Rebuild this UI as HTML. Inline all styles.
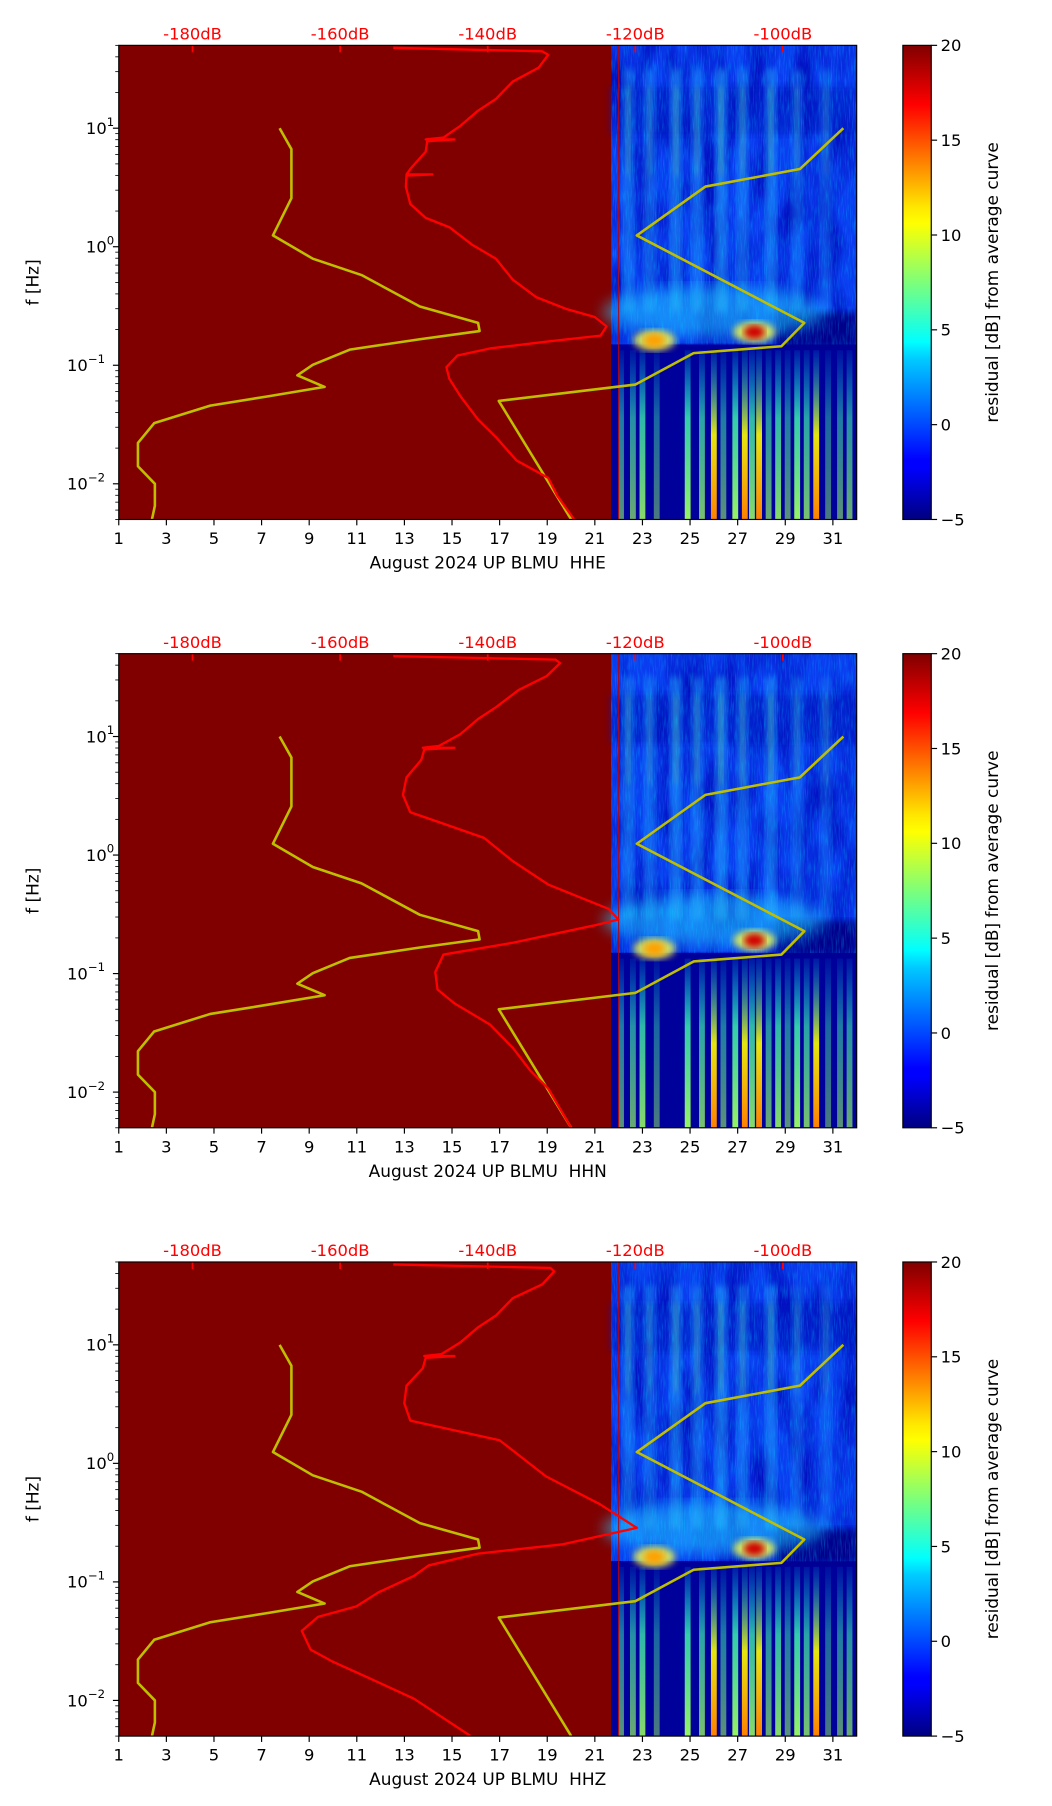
<!DOCTYPE html>
<html><head><meta charset="utf-8"><style>
html,body{margin:0;padding:0;background:#fff;}
svg{display:block;font-family:"DejaVu Sans","Liberation Sans",sans-serif;}
</style></head><body>
<svg id="fig" xmlns="http://www.w3.org/2000/svg" width="1052" height="1806" viewBox="0 0 900 1545" preserveAspectRatio="none">
<defs>
<linearGradient id="jet" x1="0" y1="1" x2="0" y2="0">
<stop offset="0" stop-color="#000080"/><stop offset="0.11" stop-color="#0000ff"/><stop offset="0.125" stop-color="#0000ff"/>
<stop offset="0.34" stop-color="#00ccff"/><stop offset="0.375" stop-color="#00ffff"/><stop offset="0.5" stop-color="#7dff7a"/>
<stop offset="0.625" stop-color="#ffff00"/><stop offset="0.66" stop-color="#ffe600"/><stop offset="0.875" stop-color="#ff0000"/><stop offset="1" stop-color="#800000"/>
</linearGradient>
<linearGradient id="stripeG" x1="0" y1="0" x2="0" y2="1">
<stop offset="0" stop-color="#00ffff" stop-opacity="0.1"/><stop offset="0.4" stop-color="#40ffb0" stop-opacity="0.8"/><stop offset="1" stop-color="#a0ff60" stop-opacity="0.95"/>
</linearGradient>
<linearGradient id="stripeY" x1="0" y1="0" x2="0" y2="1">
<stop offset="0" stop-color="#00ffff" stop-opacity="0.1"/><stop offset="0.5" stop-color="#ffff00" stop-opacity="0.9"/><stop offset="1" stop-color="#ff8000" stop-opacity="1"/>
</linearGradient>
<filter id="blur3"><feGaussianBlur stdDeviation="3"/></filter>
<filter id="blur6"><feGaussianBlur stdDeviation="6"/></filter>
<filter id="noise" x="0" y="0" width="1" height="1">
<feTurbulence type="fractalNoise" baseFrequency="0.9 0.08" numOctaves="2" seed="3"/>
<feColorMatrix type="matrix" values="0 0 0 0 0  0 0 0 0.9 0  0 0 0 0 1  0 0 0 1.1 -0.45"/>
</filter>
<filter id="noiseDark" x="0" y="0" width="1" height="1">
<feTurbulence type="fractalNoise" baseFrequency="0.05 0.02" numOctaves="2" seed="7"/>
<feColorMatrix type="matrix" values="0 0 0 0 0  0 0 0 0 0  0 0 0 0 0.45  0 0 0 1.6 -0.55"/>
</filter>
</defs>
</svg>
<script>
// ---------- data ----------
const dayTicks = [1,3,5,7,9,11,13,15,17,19,21,23,25,27,29,31];
const dbTicks = [-180,-160,-140,-120,-100];
const cbTicks = [20,15,10,5,0,-5];
const freqDecades = [-2,-1,0,1];
const panelLabels = ["August 2024 UP BLMU\u00a0\u00a0HHE","August 2024 UP BLMU\u00a0\u00a0HHN","August 2024 UP BLMU\u00a0\u00a0HHZ"];
const spectroStartDay = 21.68;
// low noise model (dB) vs log10 f
const nlnmLogF = [1.0,0.823,0.41,0.095,-0.101,-0.239,-0.504,-0.642,-0.711,-0.78,-0.868,-0.996,-1.085,-1.183,-1.262,-1.34,-1.488,-1.655,-1.852,-2.0,-2.186,-2.30];
const nlnmDB = [-168.2,-166.6,-166.6,-169.1,-163.7,-157.1,-149.2,-141.3,-141.1,-149.2,-158.7,-163.7,-165.8,-162.1,-169.7,-177.6,-185.2,-187.4,-187.4,-185.1,-185.1,-185.5];
// high noise model
const nhnmLogF = [1.0,0.656,0.508,0.095,-0.642,-0.839,-0.898,-1.163,-1.301,-2.30];
const nhnmDB = [-91.8,-97.7,-110.5,-119.8,-97.1,-100.2,-112.1,-120.0,-138.5,-128.7];
// average PSD curves
const heLogF = [1.678,1.649,1.619,1.511,1.393,1.246,1.148,1.02,0.921,0.905,0.905,0.89,0.803,0.656,0.61,0.61,0.6,0.508,0.361,0.243,0.164,0.017,-0.101,-0.278,-0.426,-0.524,-0.593,-0.672,-0.75,-0.799,-0.858,-0.917,-1.016,-1.114,-1.262,-1.458,-1.606,-1.803,-1.95,-2.098,-2.30];
const heDB = [-152.8,-132.6,-131.8,-133.1,-136.6,-138.9,-141.3,-143.7,-146.0,-148.4,-144.5,-148.2,-148.4,-150.5,-151.0,-147.5,-151.0,-151.1,-150.5,-148.4,-145.2,-142.1,-138.9,-136.6,-133.4,-129.4,-125.5,-123.9,-124.7,-131.8,-139.7,-144.1,-145.6,-145.2,-143.7,-141.3,-138.9,-136.1,-131.8,-130.6,-128.3];
const hnLogF = [1.678,1.649,1.619,1.511,1.393,1.246,1.148,1.02,0.921,0.905,0.905,0.89,0.803,0.656,0.508,0.361,0.282,0.145,-0.052,-0.249,-0.367,-0.455,-0.544,-0.593,-0.74,-0.839,-0.986,-1.134,-1.252,-1.429,-1.626,-1.822,-1.97,-2.30];
const hnDB = [-152.8,-130.8,-130.2,-132.0,-135.8,-138.9,-141.3,-143.7,-146.6,-148.8,-144.5,-148.6,-149.0,-151.0,-151.5,-150.5,-146.8,-140.5,-136.6,-131.8,-127.1,-123.6,-122.3,-125.5,-136.6,-146.0,-147.1,-146.8,-144.5,-139.7,-136.6,-134.2,-131.8,-128.7];
const hzLogF = [1.678,1.649,1.619,1.511,1.393,1.246,1.148,1.02,0.921,0.905,0.905,0.89,0.803,0.656,0.508,0.361,0.195,-0.11,-0.344,-0.545,-0.683,-0.762,-0.861,-0.95,-1.088,-1.206,-1.295,-1.413,-1.571,-1.67,-1.808,-1.985,-2.301];
const hzDB = [-152.8,-131.5,-131.0,-132.6,-136.6,-138.9,-141.3,-143.7,-146.3,-148.6,-144.5,-148.4,-148.8,-151.0,-151.3,-150.5,-138.4,-132.1,-124.8,-119.8,-129.8,-141.3,-148.0,-150.0,-154.8,-157.8,-163.0,-165.2,-164.0,-161.1,-156.2,-150.0,-142.3];
// spectrogram features (day, residual-ish)
const streakDays = [22.4,23.3,24.4,25.3,26.3,27.2,28.4,29.5,30.7];
const streakDB = [8,7,9,8,10,8,9,6,5];
const lowStripeDays = [22.1,22.6,23.0,23.6,24.9,25.5,26.0,26.4,26.9,27.3,27.6,27.9,28.3,28.7,29.1,29.5,29.9,30.3,30.8,31.3,31.7];
const lowStripeDB = [6,7,9,5,10,8,12,6,10,17,9,13,7,9,6,10,8,13,5,6,7];
const hotDays = [27.7,23.5];
const hotLogF = [-0.72,-0.79];
const hotDB = [19,13];

// ---------- layout ----------
const NS="http://www.w3.org/2000/svg";
const svg=document.getElementById('fig');
const PX0=101.6, PX1=732.9, PH=405.6, PTOP=38.8, PSTEP=520.4;
const CBX0=772.4, CBX1=796.7;
function xDay(d){return PX0+(d-1)/31*(PX1-PX0);}
function xDB(v){return PX0+(v+190)/100*(PX1-PX0);}
function yF(lf,top){return top+(Math.log10(50)-lf)/4*PH;}
function yCB(v,top){return top+(20-v)/25*PH;}
function mk(tag,attrs,parent){const e=document.createElementNS(NS,tag);for(const k in attrs)e.setAttribute(k,attrs[k]);(parent||svg).appendChild(e);return e;}
function txt(s,attrs,parent){const e=mk('text',attrs,parent);e.textContent=s;return e;}
function pathFrom(lfs,dbs,top){return lfs.map((lf,i)=>(i?'L':'M')+xDB(dbs[i]).toFixed(1)+' '+yF(lf,top).toFixed(1)).join(' ');}

const redSets=[[heLogF,heDB],[hnLogF,hnDB],[hzLogF,hzDB]];

for(let k=0;k<3;k++){
  const top=PTOP+k*PSTEP, bot=top+PH;
  const g=mk('g',{});
  
  
  const cp=mk('clipPath',{id:'clip'+k},g);
  mk('rect',{x:PX0,y:top,width:PX1-PX0,height:PH},cp);
  const plot=mk('g',{'clip-path':'url(#clip'+k+')'},g);
  const bg=mk('rect',{x:PX0,y:top,width:PX1-PX0,height:PH,fill:'#800000'},plot);
  
  
  const sx=xDay(spectroStartDay);
  const sp=mk('g',{},plot);
  
  
  const ySplit=yF(Math.log10(0.15),top);
  mk('rect',{x:sx,y:top,width:PX1-sx,height:PH,fill:'#00009a'},sp);
  mk('rect',{x:sx,y:top,width:PX1-sx,height:ySplit-top,fill:'#0a3cf0'},sp);
  mk('rect',{x:sx,y:top,width:PX1-sx,height:ySplit-top,filter:'url(#noiseDark)'},sp);
  mk('rect',{x:sx,y:yF(1.35,top),width:PX1-sx,height:yF(0.95,top)-yF(1.35,top),fill:'#0018c0',opacity:0.6,filter:'url(#blur3)'},sp);
  mk('rect',{x:xDay(28.6),y:yF(Math.log10(0.28),top),width:PX1-xDay(28.6),height:ySplit-yF(Math.log10(0.28),top)+2,fill:'#00008c',filter:'url(#blur3)'},sp);
  mk('ellipse',{cx:xDay(26),cy:yF(-0.55,top),rx:95,ry:22,fill:'#20c8ff',opacity:0.55,filter:'url(#blur6)'},sp);
  streakDays.forEach((d,i)=>{
    const e=mk('rect',{x:xDay(d)-5,y:yF(1.5,top),width:10,height:yF(-0.55,top)-yF(1.5,top),fill:'#30d0ff',opacity:(streakDB[i]/24).toFixed(2),filter:'url(#blur3)'},sp);
    
    
    const t=mk('rect',{x:xDay(d)-2,y:yF(1.35,top),width:4,height:yF(0.6,top)-yF(1.35,top),fill:'#a0ff60',opacity:(streakDB[i]/36).toFixed(2),filter:'url(#blur3)'},sp);
    
    
  });
  mk('rect',{x:sx,y:top,width:PX1-sx,height:ySplit-top,filter:'url(#noise)',opacity:0.6},sp);
  lowStripeDays.forEach((d,i)=>{
    const v=lowStripeDB[i];
    const e=mk('rect',{x:xDay(d)-2.5,y:ySplit+5,width:5,height:bot-ySplit-5,fill:v>11?'url(#stripeY)':'url(#stripeG)',opacity:Math.min(1,v/10).toFixed(2)},sp);
    
    
  });
  hotDays.forEach((d,i)=>{
    const c=yF(hotLogF[i],top);
    mk('ellipse',{cx:xDay(d),cy:c,rx:18,ry:9,fill:'#ffff40',opacity:0.8,filter:'url(#blur3)'},sp);
    const h=mk('ellipse',{cx:xDay(d),cy:c,rx:9,ry:6,fill:hotDB[i]>15?'#d00000':'#ffa000',filter:'url(#blur3)'},sp);
    
    
  });
  mk('line',{x1:xDay(22.0),y1:top,x2:xDay(22.0),y2:bot,stroke:'#c00000','stroke-width':0.8},sp);
  const ln=mk('path',{d:pathFrom(nlnmLogF,nlnmDB,top),fill:'none',stroke:'#bfbf00','stroke-width':2.2,'stroke-linejoin':'round'},plot);
  
  
  const hn=mk('path',{d:pathFrom(nhnmLogF,nhnmDB,top),fill:'none',stroke:'#bfbf00','stroke-width':2.2,'stroke-linejoin':'round'},plot);
  
  
  const rd=mk('path',{d:pathFrom(redSets[k][0],redSets[k][1],top),fill:'none',stroke:'#ff0000','stroke-width':2,'stroke-linejoin':'round'},plot);
  
  
  dbTicks.forEach(v=>{
    mk('line',{x1:xDB(v),y1:top,x2:xDB(v),y2:top+6,stroke:'#ff0000','stroke-width':1.5},g);
    const t=txt(v+'dB',{x:xDB(v),y:top-5,'text-anchor':'middle','font-size':14,fill:'#ff0000'},g);
    
    
  });
  mk('rect',{x:PX0,y:top,width:PX1-PX0,height:PH,fill:'none',stroke:'#000','stroke-width':1},g);
  dayTicks.forEach(d=>{
    mk('line',{x1:xDay(d),y1:bot,x2:xDay(d),y2:bot+5,stroke:'#000','stroke-width':1},g);
    const t=txt(String(d),{x:xDay(d),y:bot+21,'text-anchor':'middle','font-size':14,fill:'#000'},g);
    
    
  });
  const xl=txt(panelLabels[k],{x:(PX0+PX1)/2,y:bot+42,'text-anchor':'middle','font-size':14.5,fill:'#000'},g);
  
  
  for(let dec=-3;dec<=1;dec++){
    for(let m=1;m<10;m++){
      const lf=dec+Math.log10(m);
      if(lf<Math.log10(0.005)-1e-6||lf>Math.log10(50)+1e-6)continue;
      const y=yF(lf,top);
      mk('line',{x1:PX0,y1:y,x2:PX0-(m===1?5:3),y2:y,stroke:'#000','stroke-width':m===1?1:0.7},g);
    }
  }
  freqDecades.forEach(dec=>{
    const y=yF(dec,top);
    const t=txt('10',{x:PX0-20,y:y+5,'text-anchor':'end','font-size':14,fill:'#000'},g);
    
    
    const s=mk('tspan',{dy:-7,'font-size':10},t);
    s.textContent=String(dec===0?'0':(dec<0?'\u2212'+(-dec):dec));
    t.setAttribute('x',PX0-(dec<0?28:16));
    t.setAttribute('text-anchor','middle');
  });
  const yl=txt('f [Hz]',{x:0,y:0,transform:`translate(33,${top+PH/2}) rotate(-90)`,'text-anchor':'middle','font-size':14.5,fill:'#000'},g);
  
  
  const cb=mk('rect',{x:CBX0,y:top,width:CBX1-CBX0,height:PH,fill:'url(#jet)',stroke:'#000','stroke-width':1},g);
  
  
  cbTicks.forEach(v=>{
    const y=yCB(v,top);
    mk('line',{x1:CBX1,y1:y,x2:CBX1+5,y2:y,stroke:'#000','stroke-width':1},g);
    const t=txt(v<0?'\u2212'+(-v):String(v),{x:CBX1+8,y:y+5,'font-size':14,fill:'#000'},g);
    
    
  });
  const cl=txt('residual [dB] from average curve',{x:0,y:0,transform:`translate(854,${top+PH/2}) rotate(-90)`,'text-anchor':'middle','font-size':14.5,fill:'#000'},g);
  
  
}
</script>
</body></html>
